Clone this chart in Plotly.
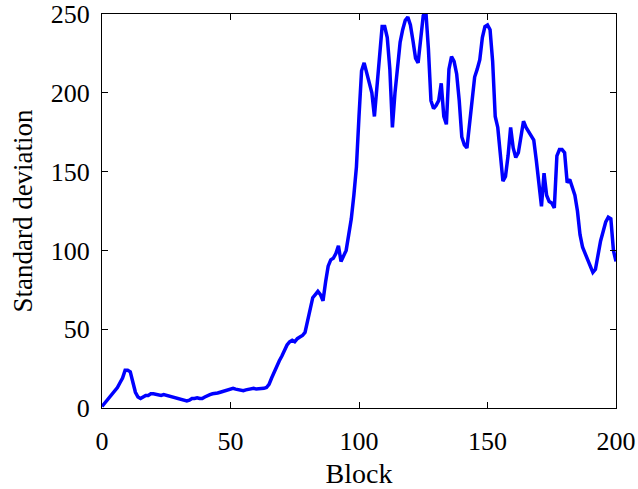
import plotly.graph_objects as go

blocks = list(range(0, 201))
std_dev = [
    1, 3, 5, 7, 9, 11, 13, 16, 19, 24,
    24, 23, 17, 10, 7, 6, 7, 8, 8, 9,
    9, 8.5, 8, 8, 8.5, 8, 8, 7.5, 7, 6,
    6, 5.5, 5, 4.5, 5, 6, 6, 6.5, 6, 6,
    7, 8, 8.5, 9, 9, 9.5, 10, 10.5, 11, 11.5,
    12, 12.5, 12, 11.5, 11.5, 11, 11.5, 12, 12.5, 12.5,
    12, 12, 12.5, 12.5, 13, 15, 19, 23, 27, 30,
    33, 37, 40, 42, 43, 42, 44, 45, 46, 48,
    55, 62, 70, 72, 74, 72, 68, 80, 90, 94,
    95, 98, 103, 93, 96, 100, 110, 120, 135, 153,
    185, 214, 219, 212, 206, 200, 185, 205, 225, 242,
    242, 235, 215, 178, 200, 218, 232, 240, 246, 248,
    243, 233, 222, 219, 236, 249, 252, 228, 195, 190,
    192, 195, 206, 185, 180, 215, 223, 220, 212, 195,
    172, 167, 165, 180, 200, 210, 215, 221, 235, 242,
    243, 240, 220, 185, 178, 160, 144, 147, 160, 178,
    165, 159, 162, 172, 182, 178, 175, 172, 170, 157,
    140, 128, 149, 135, 131, 130, 127, 160, 164, 164,
    162, 143, 145, 140, 135, 125, 110, 102, 98, 94,
    90, 86, 88, 98, 106, 112, 118, 121, 120, 100,
    93,
]

x_ticks = [0, 50, 100, 150, 200]
y_ticks = [0, 50, 100, 150, 200, 250]

fig = go.Figure()
fig.add_trace(go.Scatter(
    x=blocks, y=std_dev, mode="lines",
    line=dict(color="#0000ff", width=3.5),
    showlegend=False,
))

font_family = "Liberation Serif"
axis_common = dict(
    showgrid=False, zeroline=False, automargin=False,
    showline=True, linecolor="black", linewidth=1,
    mirror="ticks", ticks="inside", ticklen=6, tickcolor="black", tickwidth=1,
    tickfont=dict(family=font_family, size=26, color="black"),
)

fig.update_layout(
    width=638, height=489,
    margin=dict(l=102, r=22, t=14, b=81),
    paper_bgcolor="white", plot_bgcolor="white",
    xaxis=dict(range=[0, 200], tickvals=x_ticks, ticklabelstandoff=10,
               title=dict(text="Block", font=dict(family=font_family, size=28, color="black"), standoff=14),
               **axis_common),
    yaxis=dict(range=[0, 250], tickvals=y_ticks, ticklabelstandoff=6,
               title=dict(text="Standard deviation", font=dict(family=font_family, size=27, color="black"), standoff=10),
               **axis_common),
)

fig.write_html("out.html")
